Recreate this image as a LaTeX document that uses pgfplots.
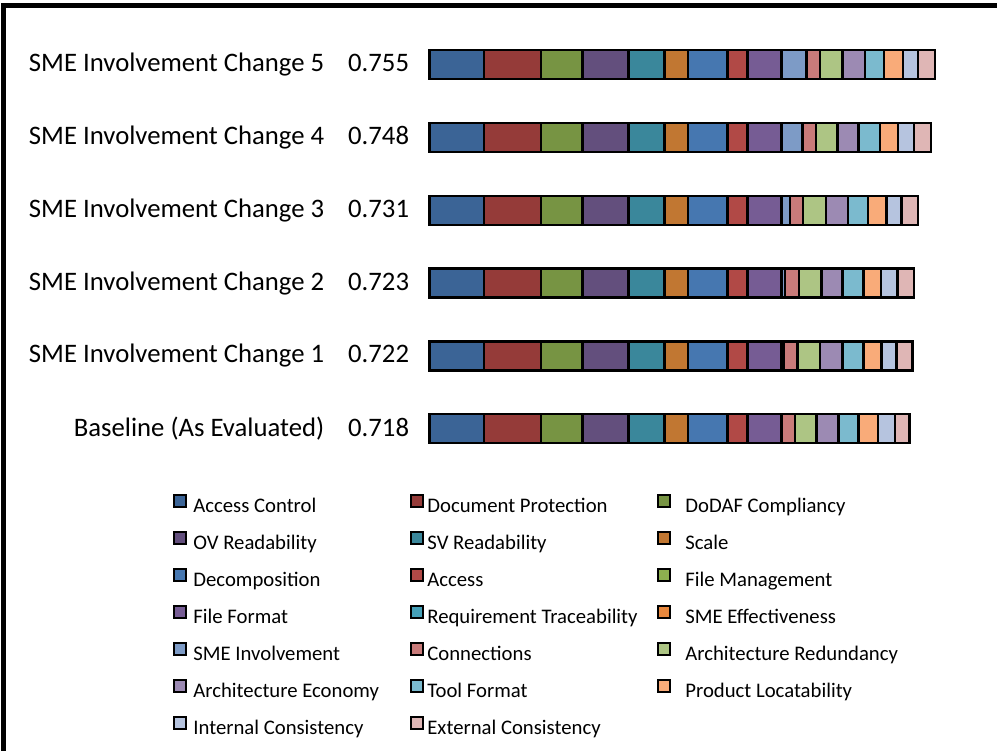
\documentclass[border=0pt]{standalone}
\usepackage{fontspec}
\setmainfont{Carlito}
\usepackage{pgfplots}
\usepackage{pgfplotstable}
\pgfplotsset{compat=1.18}

\definecolor{c1}{HTML}{3B6496}
\definecolor{c2}{HTML}{953B39}
\definecolor{c3}{HTML}{779443}
\definecolor{c4}{HTML}{634F7D}
\definecolor{c5}{HTML}{3A879B}
\definecolor{c6}{HTML}{C17732}
\definecolor{c7}{HTML}{4677B0}
\definecolor{c8}{HTML}{B14946}
\definecolor{c9}{HTML}{8DAF4F}
\definecolor{c10}{HTML}{765C94}
\definecolor{c11}{HTML}{45A0B8}
\definecolor{c12}{HTML}{E8883E}
\definecolor{c13}{HTML}{7D9BC6}
\definecolor{c14}{HTML}{C97B7A}
\definecolor{c15}{HTML}{ADC584}
\definecolor{c16}{HTML}{9C8AB3}
\definecolor{c17}{HTML}{7BBACE}
\definecolor{c18}{HTML}{F9AB79}
\definecolor{c19}{HTML}{B6C4DF}
\definecolor{c20}{HTML}{DFB6B5}

% rows: Baseline, Change 1 ... Change 5 (bottom to top)
\pgfplotstableread{
y AC     DP     DF     OV     SV     SC     DE     AX     FM FF     RT SE SI     CO     AR     AE     TF     PL     IC     EC
0 0.0821 0.0846 0.0622 0.0687 0.0533 0.0358 0.0587 0.0299 0  0.0508 0  0  0.0000 0.0199 0.0324 0.0324 0.0299 0.0289 0.0259 0.0214
1 0.0821 0.0846 0.0622 0.0687 0.0533 0.0358 0.0587 0.0299 0  0.0508 0  0  0.0035 0.0204 0.0333 0.0338 0.0309 0.0274 0.0224 0.0239
2 0.0821 0.0846 0.0622 0.0687 0.0533 0.0358 0.0587 0.0299 0  0.0508 0  0  0.0050 0.0209 0.0338 0.0314 0.0309 0.0264 0.0244 0.0249
3 0.0821 0.0846 0.0622 0.0687 0.0533 0.0358 0.0587 0.0299 0  0.0508 0  0  0.0124 0.0199 0.0338 0.0333 0.0299 0.0274 0.0224 0.0249
4 0.0821 0.0846 0.0622 0.0687 0.0533 0.0358 0.0587 0.0299 0  0.0508 0  0  0.0314 0.0199 0.0318 0.0314 0.0324 0.0264 0.0244 0.0249
5 0.0821 0.0846 0.0622 0.0687 0.0533 0.0358 0.0587 0.0299 0  0.0508 0  0  0.0373 0.0199 0.0338 0.0333 0.0289 0.0284 0.0224 0.0249
}\scores

\newcommand{\ca}[1]{\makebox[223bp][l]{\hspace{6bp}#1}}
\newcommand{\cb}[1]{\makebox[233bp][l]{\hspace{3bp}#1}}
\newcommand{\cc}[1]{\makebox[250bp][l]{\hspace{14bp}#1}}

\begin{document}
\begin{tikzpicture}
\useasboundingbox (0,0) rectangle (997bp,751bp);
\draw[line width=5bp] (3.5bp,745.5bp) rectangle (1100bp,-100bp);
\begin{axis}[
    scale only axis,
    width=535.8bp, height=436.8bp,
    at={(429.3bp,285.8bp)}, anchor=south west,
    xbar stacked, bar width=29bp,
    xmin=0, xmax=0.8, ymin=-0.5, ymax=5.5,
    clip=false,
    axis x line=none, axis y line=left,
    y axis line style={draw=none, -},
    major tick length=0pt,
    ytick={0,1,2,3,4,5},
    yticklabels={
        Baseline (As Evaluated)\hspace{24bp}0.718,
        SME Involvement Change 1\hspace{24bp}0.722,
        SME Involvement Change 2\hspace{24bp}0.723,
        SME Involvement Change 3\hspace{24bp}0.731,
        SME Involvement Change 4\hspace{24bp}0.748,
        SME Involvement Change 5\hspace{24bp}0.755},
    yticklabel style={font=\fontsize{26.8}{30}\selectfont, inner sep=0pt, anchor=east, xshift=-20bp},
    every axis plot/.append style={draw=black, line width=2.4bp},
    legend columns=3,
    legend cell align=left,
    legend image code/.code={\draw[#1, draw=black, line width=2bp] (1bp,1bp) rectangle (13bp,13bp);},
    legend style={at={(-0.478,-0.066)}, anchor=north west, draw=none, fill=none,
        font=\fontsize{20.8}{24}\selectfont, inner sep=0pt, column sep=0pt, row sep=13.4bp,
        nodes={inner sep=0pt, text height=14bp, text depth=5bp}},
]
\addplot[fill=c1]  table[x=AC, y=y] {\scores};
\addplot[fill=c2]  table[x=DP, y=y] {\scores};
\addplot[fill=c3]  table[x=DF, y=y] {\scores};
\addplot[fill=c4]  table[x=OV, y=y] {\scores};
\addplot[fill=c5]  table[x=SV, y=y] {\scores};
\addplot[fill=c6]  table[x=SC, y=y] {\scores};
\addplot[fill=c7]  table[x=DE, y=y] {\scores};
\addplot[fill=c8]  table[x=AX, y=y] {\scores};
\addplot[fill=c9]  table[x=FM, y=y] {\scores};
\addplot[fill=c10] table[x=FF, y=y] {\scores};
\addplot[fill=c11] table[x=RT, y=y] {\scores};
\addplot[fill=c12] table[x=SE, y=y] {\scores};
\addplot[fill=c13] table[x=SI, y=y] {\scores};
\addplot[fill=c14] table[x=CO, y=y] {\scores};
\addplot[fill=c15] table[x=AR, y=y] {\scores};
\addplot[fill=c16] table[x=AE, y=y] {\scores};
\addplot[fill=c17] table[x=TF, y=y] {\scores};
\addplot[fill=c18] table[x=PL, y=y] {\scores};
\addplot[fill=c19] table[x=IC, y=y] {\scores};
\addplot[fill=c20] table[x=EC, y=y] {\scores};
\legend{
    \ca{Access Control}, \cb{Document Protection}, \cc{DoDAF Compliancy},
    \ca{OV Readability}, \cb{SV Readability}, \cc{Scale},
    \ca{Decomposition}, \cb{Access}, \cc{File Management},
    \ca{File Format}, \cb{Requirement Traceability}, \cc{SME Effectiveness},
    \ca{SME Involvement}, \cb{Connections}, \cc{Architecture Redundancy},
    \ca{Architecture Economy}, \cb{Tool Format}, \cc{Product Locatability},
    \ca{Internal Consistency}, \cb{External Consistency}}
\end{axis}
\end{tikzpicture}
\end{document}
